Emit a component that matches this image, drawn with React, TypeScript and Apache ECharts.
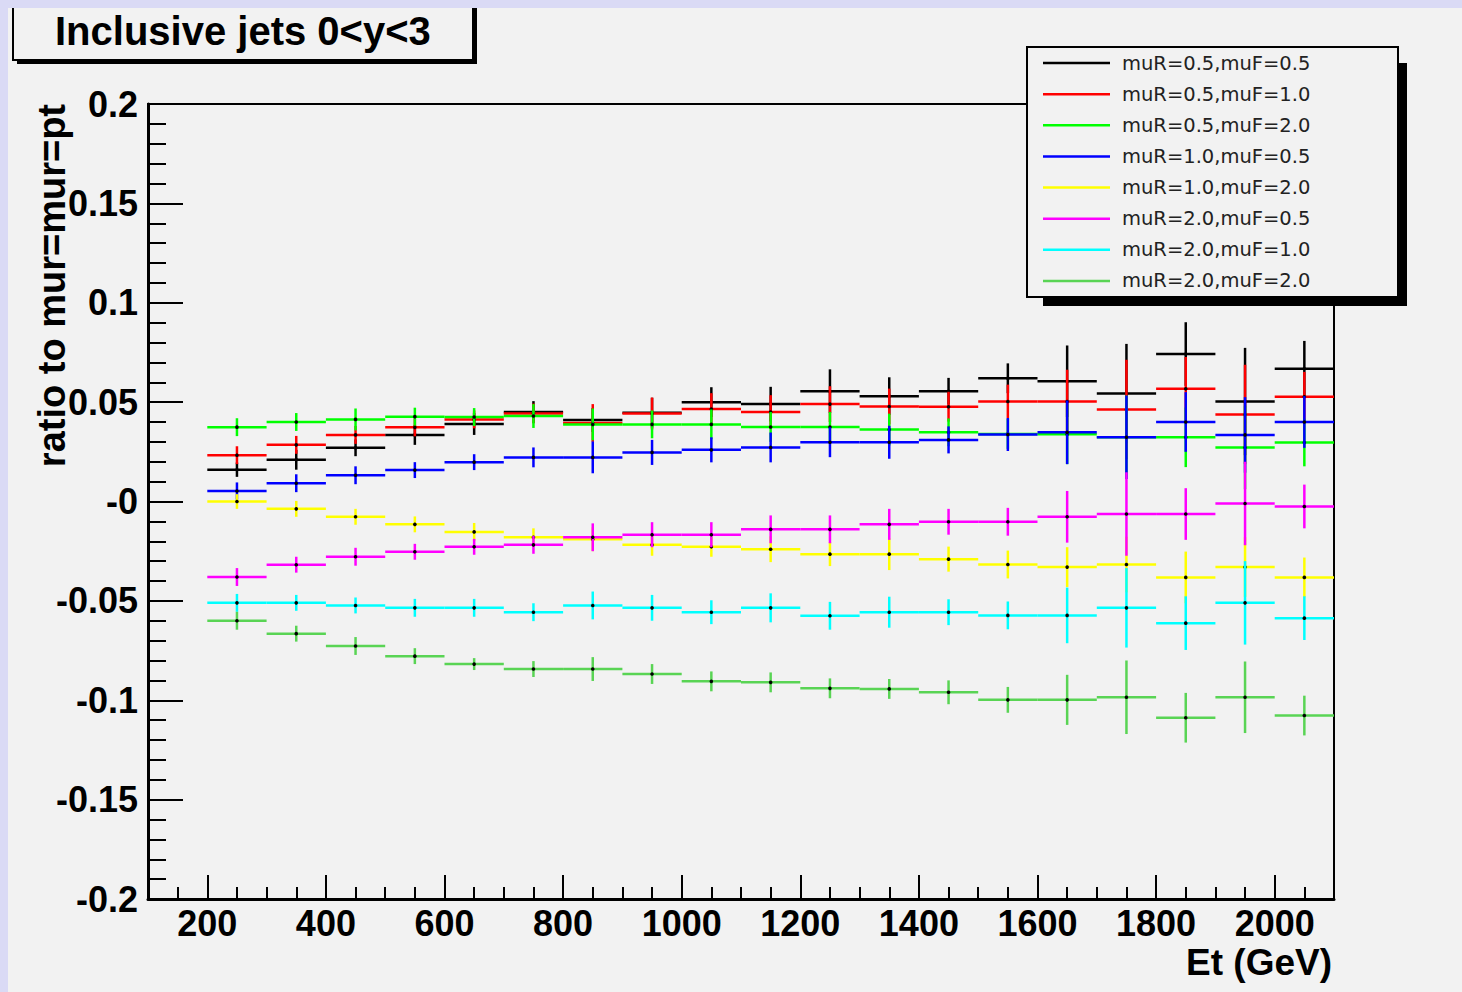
import React, { useEffect, useRef } from "react";
import * as echarts from "echarts";

// ---------- data ----------
const binCenters = [250, 350, 450, 550, 650, 750, 850, 950, 1050, 1150, 1250, 1350, 1450, 1550, 1650, 1750, 1850, 1950, 2050];
const BIN_WIDTH = 100;

const seriesNames = [
  "muR=0.5,muF=0.5",
  "muR=0.5,muF=1.0",
  "muR=0.5,muF=2.0",
  "muR=1.0,muF=0.5",
  "muR=1.0,muF=2.0",
  "muR=2.0,muF=0.5",
  "muR=2.0,muF=1.0",
  "muR=2.0,muF=2.0",
];
const seriesColors = ["#000000", "#ff0000", "#00ff00", "#0000ff", "#ffff00", "#ff00ff", "#00ffff", "#59d454"];

const valR05F05 = [0.016, 0.021, 0.027, 0.0335, 0.039, 0.045, 0.041, 0.0447, 0.05, 0.049, 0.0555, 0.053, 0.0555, 0.062, 0.0605, 0.0543, 0.0742, 0.0503, 0.0668];
const errR05F05 = [0.0036, 0.005, 0.0042, 0.005, 0.0055, 0.0055, 0.006, 0.0075, 0.0075, 0.0087, 0.011, 0.0095, 0.0067, 0.0075, 0.018, 0.025, 0.016, 0.027, 0.014];

const valR05F10 = [0.0233, 0.0285, 0.0335, 0.0373, 0.0413, 0.0443, 0.0395, 0.0443, 0.0465, 0.045, 0.049, 0.0478, 0.0477, 0.0503, 0.0503, 0.0463, 0.0567, 0.0438, 0.0527];
const errR05F10 = [0.0045, 0.0045, 0.0045, 0.0045, 0.0045, 0.005, 0.0095, 0.008, 0.008, 0.0085, 0.009, 0.009, 0.0075, 0.0085, 0.016, 0.025, 0.016, 0.025, 0.0125];

const valR05F20 = [0.0374, 0.04, 0.0413, 0.0427, 0.0425, 0.043, 0.0388, 0.0388, 0.0388, 0.0375, 0.0375, 0.0362, 0.0348, 0.034, 0.0338, 0.0323, 0.0323, 0.0272, 0.0297];
const errR05F20 = [0.0045, 0.0045, 0.0055, 0.0045, 0.0045, 0.006, 0.008, 0.007, 0.0075, 0.0075, 0.0075, 0.008, 0.007, 0.0075, 0.015, 0.021, 0.015, 0.021, 0.012];

const valR10F05 = [0.0053, 0.0092, 0.0132, 0.0158, 0.0198, 0.0222, 0.0222, 0.0247, 0.026, 0.0272, 0.0298, 0.0298, 0.031, 0.0337, 0.0348, 0.0323, 0.04, 0.0335, 0.04];
const errR10F05 = [0.0043, 0.0045, 0.0045, 0.004, 0.004, 0.005, 0.008, 0.0063, 0.0063, 0.0075, 0.0075, 0.0083, 0.0068, 0.0083, 0.016, 0.021, 0.015, 0.019, 0.013];

const valR10F20 = [0.0, -0.0037, -0.0077, -0.0115, -0.0153, -0.018, -0.019, -0.0218, -0.0228, -0.024, -0.0265, -0.0265, -0.029, -0.0317, -0.033, -0.0317, -0.0382, -0.033, -0.0382];
const errR10F20 = [0.0037, 0.004, 0.004, 0.004, 0.0045, 0.0045, 0.006, 0.0055, 0.005, 0.0065, 0.006, 0.008, 0.0063, 0.007, 0.01, 0.014, 0.013, 0.015, 0.01];

const valR20F05 = [-0.038, -0.0318, -0.0278, -0.0253, -0.0228, -0.0218, -0.018, -0.0167, -0.0167, -0.014, -0.014, -0.0115, -0.0102, -0.0102, -0.0077, -0.0063, -0.0063, -0.001, -0.0025];
const errR20F05 = [0.0045, 0.004, 0.0045, 0.004, 0.004, 0.0045, 0.007, 0.0063, 0.0063, 0.007, 0.007, 0.0078, 0.0065, 0.007, 0.013, 0.021, 0.013, 0.021, 0.011];

const valR20F10 = [-0.051, -0.051, -0.0523, -0.0535, -0.0535, -0.0557, -0.0523, -0.0535, -0.0557, -0.0535, -0.0575, -0.0557, -0.0557, -0.0573, -0.0573, -0.0535, -0.0612, -0.051, -0.0587];
const errR20F10 = [0.0045, 0.004, 0.004, 0.0045, 0.0045, 0.0045, 0.007, 0.0065, 0.006, 0.0073, 0.007, 0.0078, 0.0065, 0.007, 0.014, 0.02, 0.0135, 0.021, 0.011];

const valR20F20 = [-0.06, -0.0665, -0.0727, -0.0778, -0.0818, -0.0843, -0.0843, -0.0868, -0.0905, -0.091, -0.094, -0.0943, -0.096, -0.0998, -0.0998, -0.0985, -0.1088, -0.0985, -0.1077];
const errR20F20 = [0.0045, 0.004, 0.0045, 0.004, 0.003, 0.004, 0.006, 0.005, 0.005, 0.005, 0.005, 0.005, 0.006, 0.0065, 0.0126, 0.0185, 0.0125, 0.018, 0.01];

const seriesValues = [valR05F05, valR05F10, valR05F20, valR10F05, valR10F20, valR20F05, valR20F10, valR20F20];
const seriesErrors = [errR05F05, errR05F10, errR05F20, errR10F05, errR10F20, errR20F05, errR20F10, errR20F20];

const xTickValues = [200, 400, 600, 800, 1000, 1200, 1400, 1600, 1800, 2000];
const yTickValues = [-0.2, -0.15, -0.1, -0.05, 0, 0.05, 0.1, 0.15, 0.2];
const yTickLabels = ["-0.2", "-0.15", "-0.1", "-0.05", "-0", "0.05", "0.1", "0.15", "0.2"];

const titleText = "Inclusive jets 0<y<3";
const xAxisTitle = "Et (GeV)";
const yAxisTitle = "ratio to mur=mur=pt";

// ---------- chart ----------
const LW = 2.5;

function makeSeries(idx: number) {
  const color = seriesColors[idx];
  const vals = seriesValues[idx];
  const errs = seriesErrors[idx];
  return {
    type: "custom",
    name: seriesNames[idx],
    xAxisIndex: 0,
    yAxisIndex: 0,
    clip: false,
    z: 3,
    itemStyle: { color },
    data: binCenters.map((c, i) => [c, vals[i], errs[i]]),
    renderItem: (params: any, api: any) => {
      const x = api.value(0);
      const y = api.value(1);
      const e = api.value(2);
      const a = api.coord([x - BIN_WIDTH / 2, y]);
      const b = api.coord([x + BIN_WIDTH / 2, y]);
      const t = api.coord([x, y + e]);
      const d = api.coord([x, y - e]);
      const c = api.coord([x, y]);
      return {
        type: "group",
        children: [
          { type: "line", shape: { x1: a[0], y1: a[1], x2: b[0], y2: b[1] }, style: { stroke: color, lineWidth: LW } },
          { type: "line", shape: { x1: t[0], y1: t[1], x2: d[0], y2: d[1] }, style: { stroke: color, lineWidth: LW } },
          { type: "circle", shape: { cx: c[0], cy: c[1], r: 1.8 }, style: { fill: "#000" } },
        ],
      };
    },
  };
}

function buildGraphics() {
  const els: any[] = [];
  // title box
  els.push({ type: "rect", z: 100, shape: { x: 9, y: -6, width: 460, height: 62 }, style: { fill: "#000" } });
  els.push({ type: "rect", z: 101, shape: { x: 5, y: -10, width: 460, height: 62 }, style: { fill: "#f2f2f2", stroke: "#000", lineWidth: 2 } });
  els.push({
    type: "text", z: 102, x: 47, y: 23,
    style: { text: titleText, font: 'bold 40px "Liberation Sans", Arial, sans-serif', fill: "#000", align: "left", verticalAlign: "middle", textAlign: "left", textVerticalAlign: "middle" },
  });
  // legend box
  els.push({ type: "rect", z: 100, shape: { x: 1035, y: 55, width: 364, height: 243 }, style: { fill: "#000" } });
  els.push({ type: "rect", z: 101, shape: { x: 1019, y: 39, width: 371, height: 250 }, style: { fill: "#f2f2f2", stroke: "#000", lineWidth: 2 } });
  seriesNames.forEach((n, i) => {
    const y = 55 + i * 31.14;
    els.push({ type: "line", z: 102, shape: { x1: 1035, y1: y, x2: 1102, y2: y }, style: { stroke: seriesColors[i], lineWidth: LW } });
    els.push({
      type: "text", z: 102, x: 1114, y,
      style: { text: n, font: '19.5px "DejaVu Sans", sans-serif', fill: "#222", align: "left", verticalAlign: "middle", textAlign: "left", textVerticalAlign: "middle" },
    });
  });
  // axis titles
  els.push({
    type: "text", z: 102, x: 1324, y: 954,
    style: { text: xAxisTitle, font: 'bold 37px "Liberation Sans", Arial, sans-serif', fill: "#000", align: "right", verticalAlign: "middle", textAlign: "right", textVerticalAlign: "middle" },
  });
  els.push({
    type: "text", z: 102, x: 44, y: 96, rotation: Math.PI / 2,
    style: { text: yAxisTitle, font: 'bold 38px "Liberation Sans", Arial, sans-serif', fill: "#000", align: "right", verticalAlign: "middle", textAlign: "right", textVerticalAlign: "middle" },
  });
  return els;
}

export default function App() {
  const ref = useRef<HTMLDivElement>(null);
  useEffect(() => {
    if (!ref.current) return;
    const chart = echarts.init(ref.current, null, { renderer: "svg" });
    const option: any = {
      animation: false,
      backgroundColor: "#f2f2f2",
      grid: { left: 140, top: 96, right: 128, bottom: 93, show: true, borderColor: "#000", borderWidth: 2, backgroundColor: "transparent" },
      xAxis: [
        {
          type: "value", min: 100, max: 2100, position: "bottom",
          axisLine: { show: true, onZero: false, lineStyle: { color: "#000", width: 3 } },
          axisTick: { show: true, inside: true, length: 24, customValues: xTickValues, lineStyle: { color: "#000", width: 2 } },
          axisLabel: {
            show: true, customValues: xTickValues, margin: 6, color: "#000",
            fontSize: 36, fontWeight: "bold", fontFamily: '"Liberation Sans", Arial, sans-serif',
            formatter: (v: number) => String(v),
          },
          splitLine: { show: false },
        },
        {
          type: "value", min: 100, max: 2100, interval: 50, position: "bottom", offset: 0,
          axisLine: { show: false, onZero: false },
          axisTick: { show: true, inside: true, length: 12, lineStyle: { color: "#000", width: 2 } },
          axisLabel: { show: false },
          splitLine: { show: false },
        },
      ],
      yAxis: {
        type: "value", min: -0.2, max: 0.2, interval: 0.05,
        axisLine: { show: true, onZero: false, lineStyle: { color: "#000", width: 3 } },
        axisTick: { show: true, inside: true, length: 35, lineStyle: { color: "#000", width: 2 } },
        minorTick: { show: true, splitNumber: 5, length: 18, lineStyle: { color: "#000", width: 2 } },
        axisLabel: {
          margin: 10, color: "#000", fontSize: 36, fontWeight: "bold", fontFamily: '"Liberation Sans", Arial, sans-serif',
          formatter: (v: number) => {
            const k = yTickValues.findIndex((t) => Math.abs(t - v) < 1e-9);
            return k >= 0 ? yTickLabels[k] : "";
          },
        },
        splitLine: { show: false },
        minorSplitLine: { show: false },
      },
      series: seriesNames.map((_, i) => makeSeries(i)),
      graphic: { elements: buildGraphics() },
    };
    chart.setOption(option);
    return () => chart.dispose();
  }, []);
  return (
    <div style={{ position: "fixed", left: 0, top: 0, width: 1462, height: 992, background: "#dadaf5", overflow: "hidden" }}>
      <div ref={ref} style={{ position: "absolute", left: 8, top: 8, width: 1454, height: 984 }} />
    </div>
  );
}
